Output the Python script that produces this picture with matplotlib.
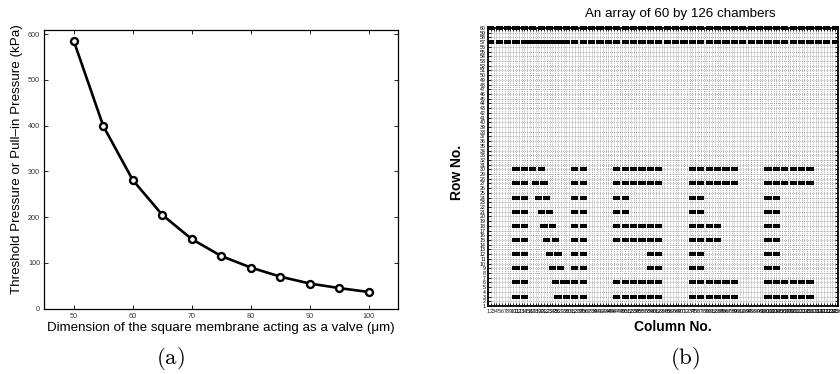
import matplotlib
matplotlib.use("Agg")
import matplotlib.pyplot as plt

plt.rcParams['font.family'] = ['Liberation Sans', 'DejaVu Sans']
plt.rcParams['mathtext.fontset'] = 'cm'

# ---- panel (a) data
membrane_um = [50, 55, 60, 65, 70, 75, 80, 85, 90, 95, 100]
pressure_kpa = [585, 399, 281, 205, 152, 115, 90, 70, 55, 45, 36.5]

# ---- panel (b) data: chambers that are switched on
n_rows = 60
n_cols = 126
letter_rows = [30, 27, 24, 21, 18, 15, 12, 9, 6, 3]
letter_cols = [
    [11, 14, 17, 20, 32, 35, 47, 50, 53, 56, 59, 62, 74, 77, 80, 83, 86, 89, 101, 104, 107, 110, 113, 116],
    [11, 14, 18, 21, 32, 35, 47, 50, 53, 56, 59, 62, 74, 77, 80, 83, 86, 89, 101, 104, 107, 110, 113, 116],
    [11, 14, 19, 22, 32, 35, 47, 50, 74, 77, 101, 104],
    [11, 14, 20, 23, 32, 35, 47, 50, 74, 77, 101, 104],
    [11, 14, 21, 24, 32, 35, 47, 50, 53, 56, 59, 62, 74, 77, 80, 83, 101, 104],
    [11, 14, 22, 25, 32, 35, 47, 50, 53, 56, 59, 62, 74, 77, 80, 83, 101, 104],
    [11, 14, 23, 26, 32, 35, 59, 62, 74, 77, 101, 104],
    [11, 14, 24, 27, 32, 35, 59, 62, 74, 77, 101, 104],
    [11, 14, 25, 28, 29, 32, 35, 47, 50, 53, 56, 59, 62, 74, 77, 80, 83, 86, 89, 101, 104, 107, 110, 113, 116],
    [11, 14, 26, 29, 32, 35, 47, 50, 53, 56, 59, 62, 74, 77, 80, 83, 86, 89, 101, 104, 107, 110, 113, 116],
]
top_row_cols = list(range(2, 126, 3))
row57_cols = list(range(2, 126, 3)) + list(range(16, 30))

fig = plt.figure(figsize=(8.4, 3.74), dpi=100)
W, H = 840.0, 374.0

# ================= (a)
axa = fig.add_axes([44.3 / W, 1 - 308.7 / H, (398.3 - 44.3) / W, (308.7 - 30) / H])
axa.plot(membrane_um, pressure_kpa, color='k', lw=1.9, marker='o', ms=5,
         mfc='white', mec='k', mew=1.7)
axa.set_xlim(45, 105)
axa.set_ylim(0, 609)
axa.set_xticks([50, 60, 70, 80, 90, 100])
axa.set_yticks([0, 100, 200, 300, 400, 500, 600])
axa.tick_params(direction='in', top=True, right=True, length=3, width=0.6,
                labelsize=5.2, pad=3, labelcolor='0.2')
for s in axa.spines.values():
    s.set_linewidth(0.9)
axa.set_xlabel('Dimension of the square membrane acting as a valve (μm)',
               fontsize=9.6, va='center')
axa.xaxis.set_label_coords(0.499, -19.3 / 278.7)
axa.set_ylabel('Threshold Pressure or Pull–in Pressure (kPa)', fontsize=9.6, va='center')
axa.yaxis.set_label_coords(-27.6 / 354, (308.7 - 159) / 278.7)

fig.text(170 / W, 1 - 358 / H, r'$\mathrm{(a)}$', fontsize=16.5, ha='center', va='center')

# ================= (b)
axb = fig.add_axes([488 / W, 1 - 306 / H, (838 - 488) / W, (306 - 28) / H])
axb.set_xlim(1, n_cols)
axb.set_ylim(1, n_rows)
axb.set_xticks(range(1, n_cols + 1))
axb.set_yticks(range(1, n_rows + 1))
axb.grid(True, ls=':', color='0.5', lw=0.55)
axb.set_axisbelow(True)

bw, bh = 2.55, 0.85
for r, cols in zip(letter_rows, letter_cols):
    axb.barh([r] * len(cols), [bw] * len(cols), left=[c - bw / 2 for c in cols],
             height=bh, color='k', lw=0)
axb.barh([57] * len(row57_cols), [bw] * len(row57_cols),
         left=[c - bw / 2 for c in row57_cols], height=bh, color='k', lw=0)
axb.barh([60] * len(top_row_cols), [bw] * len(top_row_cols),
         left=[c - bw / 2 for c in top_row_cols], height=bh, color='k', lw=0,
         clip_on=False)

axb.tick_params(direction='in', top=True, right=True, length=2, width=0.6,
                labelsize=3.8, pad=1.5)
axb.tick_params(axis='x', pad=2.5)
for s in axb.spines.values():
    s.set_linewidth(1.3)

axb.set_title('An array of 60 by 126 chambers', fontsize=9.6, x=(680 - 488) / 350,
              y=(306 - 14) / 278, va='center', pad=0)
axb.set_xlabel('Column No.', fontsize=10, fontweight='bold', va='center')
axb.xaxis.set_label_coords((673 - 488) / 350, (306 - 326.7) / 278)
axb.set_ylabel('Row No.', fontsize=10, fontweight='bold', va='center')
axb.yaxis.set_label_coords((456.7 - 488) / 350, (306 - 172) / 278)

fig.text(685 / W, 1 - 358 / H, r'$\mathrm{(b)}$', fontsize=16.5, ha='center', va='center')

fig.savefig('out.png', dpi=100)
